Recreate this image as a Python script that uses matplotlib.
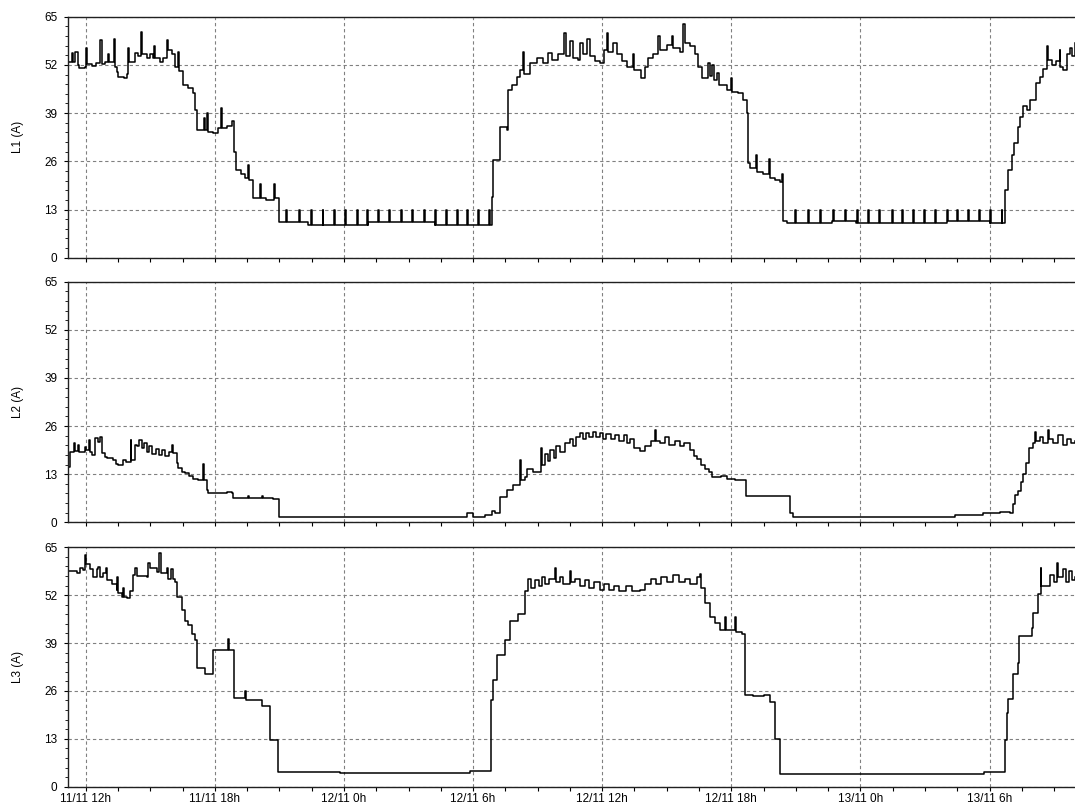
import numpy as np
import matplotlib
matplotlib.use("Agg")
import matplotlib.pyplot as plt
from matplotlib.ticker import MultipleLocator, FuncFormatter

plt.rcParams['font.family'] = ['Liberation Sans Narrow', 'Liberation Sans', 'DejaVu Sans']

# time in hours counted from 11/11 0h, current in A (step data)
t_start = 11.19
t_end = 57.97

l1_t = [11.19, 11.35, 11.40, 11.50, 11.62, 11.70, 11.95, 12.01, 12.06, 12.30, 12.50, 12.66, 12.74, 12.90,
        13.05, 13.10, 13.32, 13.37, 13.45, 13.51, 13.80, 13.92, 13.98, 14.03, 14.29, 14.45, 14.57, 14.62,
        14.85, 15.00, 15.14, 15.17, 15.22, 15.45, 15.60, 15.76, 15.82, 16.00, 16.15, 16.30, 16.35, 16.54,
        16.77, 17.00, 17.08, 17.16, 17.50, 17.53, 17.65, 17.68, 17.93, 18.16, 18.29, 18.32, 18.55, 18.80,
        18.91, 18.98, 19.20, 19.40, 19.56, 19.59, 19.76, 20.10, 20.13, 20.40, 20.75, 20.78, 20.98,
        22.34, 25.13, 28.23,
        30.87, 30.94, 31.25, 31.56, 31.64, 31.80, 32.03, 32.18, 32.31, 32.37, 32.65, 32.96, 33.27, 33.50,
        33.66, 33.96, 34.24, 34.32, 34.51, 34.66, 34.89, 34.97, 35.12, 35.31, 35.43, 35.66, 35.90, 36.09,
        36.21, 36.29, 36.52, 36.68, 36.91, 37.14, 37.42, 37.48, 37.79, 37.99, 38.14, 38.38, 38.61, 38.69,
        39.00, 39.23, 39.31, 39.62, 39.77, 39.85, 40.09, 40.32, 40.47, 40.63, 40.93, 41.01, 41.12, 41.20,
        41.35, 41.44, 41.79, 41.97, 42.03, 42.33, 42.56, 42.72, 42.79, 42.87, 43.15, 43.21, 43.49, 43.74,
        43.80, 44.03, 44.26, 44.34, 44.39,
        44.58, 46.70, 47.80, 52.00, 54.00,
        54.72, 54.87, 55.03, 55.14, 55.32, 55.42, 55.56, 55.75, 55.88, 56.16, 56.35, 56.49, 56.66, 56.70,
        56.90, 57.10, 57.25, 57.28, 57.42, 57.60, 57.75, 57.85, 57.97]
l1_v = [52.9, 55.1, 52.9, 55.6, 52.0, 51.2, 51.5, 56.5, 52.3, 51.8, 52.5, 58.7, 52.3, 52.8,
        55.0, 52.8, 59.0, 51.5, 50.0, 48.8, 48.5, 49.5, 56.5, 52.8, 55.1, 54.5, 61.0, 55.0,
        53.8, 55.0, 54.0, 57.2, 54.0, 52.8, 54.0, 58.7, 56.0, 55.0, 51.5, 55.6, 50.3, 46.6,
        45.8, 44.5, 39.8, 34.4, 37.6, 34.4, 39.0, 34.0, 33.6, 35.0, 40.3, 35.0, 35.5, 37.0,
        28.5, 23.6, 22.5, 21.5, 25.0, 21.0, 16.0, 20.0, 16.0, 15.5, 19.8, 16.0, 9.6,
        8.8, 9.6, 8.8,
        16.4, 26.3, 35.3, 34.5, 45.2, 46.5, 48.7, 50.6, 55.5, 49.5, 52.5, 53.8, 52.5, 55.2,
        53.4, 55.0, 60.5, 54.5, 58.5, 54.0, 53.4, 58.0, 55.0, 59.0, 54.5, 53.0, 52.4, 56.0,
        60.5, 55.5, 57.8, 55.0, 53.0, 51.4, 55.0, 50.5, 48.6, 51.5, 54.0, 55.0, 59.8, 56.0,
        57.4, 59.8, 56.5, 55.5, 63.0, 58.0, 57.0, 55.0, 51.5, 48.5, 52.5, 49.0, 52.0, 48.0,
        49.7, 46.5, 45.2, 48.5, 44.8, 44.5, 42.5, 39.0, 25.5, 24.1, 27.7, 23.0, 22.5, 26.6,
        21.5, 21.0, 20.4, 22.5, 10.0,
        9.4, 10.0, 9.4, 10.0, 9.4,
        18.2, 23.7, 27.7, 30.9, 35.3, 38.0, 41.0, 39.8, 42.5, 47.0, 48.7, 51.0, 57.0, 53.3,
        52.0, 53.0, 56.0, 51.5, 50.6, 55.0, 56.5, 54.5, 58.0]

# short load pulses during the two nights (L1)
l1_pulses = [21.31, 21.91, 22.47, 23.01, 23.53, 24.04, 24.59, 25.06, 25.58, 26.09, 26.64, 27.16,
             27.71, 28.23, 28.74, 29.24, 29.72, 30.23, 30.75,
             44.96, 45.58, 46.12, 46.71, 47.28, 47.83, 48.37, 48.88, 49.45, 49.92, 50.46, 50.97,
             51.47, 52.01, 52.50, 53.01, 53.52, 54.02, 54.56]
l1_pulse_top = 12.9

l2_t = [11.19, 11.27, 11.46, 11.49, 11.66, 11.70, 11.97, 12.00, 12.17, 12.20, 12.28, 12.43, 12.55, 12.65,
        12.74, 12.90, 12.98, 13.28, 13.40, 13.51, 13.75, 13.85, 14.09, 14.12, 14.29, 14.40, 14.50, 14.60,
        14.70, 14.83, 14.95, 15.10, 15.25, 15.40, 15.55, 15.70, 15.85, 16.02, 16.07, 16.23, 16.29, 16.48,
        16.60, 16.80, 17.00, 17.20, 17.44, 17.48, 17.62, 17.68, 18.55, 18.80, 18.85, 19.56, 19.60, 20.20,
        20.25, 20.70, 21.00, 29.72, 30.00, 30.56, 30.90, 31.02, 31.25, 31.58, 31.86, 32.18, 32.22, 32.40,
        32.51, 32.80, 33.16, 33.20, 33.35, 33.50, 33.58, 33.75, 33.85, 34.04, 34.25, 34.51, 34.65, 34.80,
        34.97, 35.10, 35.25, 35.40, 35.55, 35.70, 35.90, 36.05, 36.20, 36.40, 36.60, 36.80, 37.00, 37.15,
        37.30, 37.50, 37.76, 38.00, 38.25, 38.46, 38.50, 38.69, 38.90, 39.10, 39.39, 39.60, 39.80, 40.09,
        40.25, 40.42, 40.60, 40.78, 40.95, 41.10, 41.50, 41.80, 42.17, 42.68, 44.73, 44.87, 52.40, 53.70,
        54.49, 54.95, 55.09, 55.20, 55.30, 55.45, 55.55, 55.70, 55.85, 56.00, 56.10, 56.15, 56.35, 56.50,
        56.70, 56.75, 56.95, 57.20, 57.40, 57.60, 57.80, 57.97]
l2_v = [14.9, 19.1, 21.3, 19.3, 20.8, 19.0, 20.3, 19.5, 22.2, 19.0, 18.2, 22.8, 21.8, 23.0,
        18.7, 17.7, 17.4, 16.8, 15.8, 15.5, 16.8, 16.3, 22.2, 16.8, 21.0, 20.5, 22.2, 20.0,
        21.5, 19.0, 20.5, 18.5, 19.8, 18.3, 19.5, 18.0, 19.0, 21.0, 18.8, 16.0, 14.7, 13.6,
        13.3, 12.5, 11.8, 11.4, 15.7, 11.4, 8.7, 7.8, 8.2, 7.8, 6.5, 7.0, 6.5, 7.0,
        6.5, 6.2, 1.5, 2.4, 1.5, 2.0, 3.0, 2.4, 6.9, 8.7, 10.0, 16.8, 11.4, 12.3,
        14.5, 13.6, 20.0, 15.5, 18.5, 16.5, 19.5, 17.5, 20.5, 19.0, 21.5, 22.5, 20.5, 23.0,
        24.0, 22.5, 24.0, 23.0, 24.3, 23.0, 24.0, 22.5, 23.8, 22.5, 23.5, 22.0, 23.5, 21.5,
        22.5, 20.0, 19.3, 20.5, 22.0, 25.0, 22.0, 21.5, 23.0, 21.0, 22.0, 20.5, 21.5, 19.5,
        18.0, 17.0, 15.5, 14.5, 13.5, 12.2, 12.5, 11.8, 11.5, 7.1, 2.5, 1.5, 2.0, 2.4,
        2.9, 2.4, 5.0, 7.5, 8.5, 11.0, 13.0, 16.0, 20.0, 21.5, 24.5, 22.0, 23.0, 21.5,
        25.0, 22.5, 21.5, 23.5, 21.0, 22.5, 21.5, 22.0]

l3_t = [11.19, 11.58, 11.74, 11.89, 11.97, 12.01, 12.20, 12.35, 12.51, 12.59, 12.66, 12.82, 12.94, 13.00,
        13.21, 13.44, 13.47, 13.51, 13.67, 13.72, 13.78, 13.91, 14.06, 14.21, 14.29, 14.37, 14.83, 14.91,
        14.99, 15.30, 15.42, 15.49, 15.76, 15.84, 15.96, 16.04, 16.15, 16.23, 16.46, 16.61, 16.77, 16.93,
        17.08, 17.16, 17.54, 17.92, 18.61, 18.65, 18.89, 19.40, 19.45, 20.19, 20.56, 20.94, 23.82, 29.86,
        30.83, 30.93, 31.11, 31.49, 31.72, 32.09, 32.41, 32.55, 32.70, 32.88, 33.05, 33.20, 33.35, 33.55,
        33.81, 33.85, 34.05, 34.20, 34.51, 34.55, 34.75, 34.95, 35.20, 35.40, 35.60, 35.90, 36.10, 36.30,
        36.55, 36.80, 37.10, 37.40, 37.76, 38.00, 38.25, 38.50, 38.75, 39.00, 39.30, 39.55, 39.85, 40.10,
        40.40, 40.55, 40.60, 40.78, 41.00, 41.24, 41.48, 41.70, 41.74, 42.17, 42.21, 42.50, 42.64, 43.00,
        43.50, 43.80, 44.03, 44.26, 53.75, 54.72, 54.83, 54.86, 55.09, 55.33, 55.37, 55.96, 56.02, 56.26,
        56.37, 56.41, 56.81, 57.00, 57.15, 57.20, 57.40, 57.55, 57.70, 57.85, 57.97]
l3_v = [58.5, 57.9, 59.3, 58.9, 62.9, 60.5, 59.0, 57.0, 59.0, 59.7, 57.0, 58.0, 59.3, 56.0,
        55.0, 53.4, 57.0, 52.5, 51.5, 54.0, 51.5, 51.2, 53.0, 57.5, 59.5, 57.3, 57.0, 60.7,
        59.3, 58.4, 63.4, 58.0, 59.5, 56.5, 59.0, 56.5, 55.7, 51.6, 48.0, 45.0, 44.0, 41.5,
        39.8, 32.1, 30.5, 37.1, 40.0, 37.0, 24.1, 26.0, 23.5, 22.0, 12.7, 4.0, 3.6, 4.3,
        23.5, 29.0, 35.7, 39.8, 45.0, 47.0, 53.0, 56.5, 54.0, 56.0, 54.5, 57.0, 55.0, 56.5,
        59.3, 55.5, 57.0, 55.0, 58.5, 55.5, 56.5, 54.5, 56.0, 54.0, 55.5, 53.5, 55.0, 53.5,
        54.5, 53.0, 54.5, 53.0, 53.4, 55.0, 56.5, 55.0, 57.0, 55.5, 57.5, 55.5, 56.5, 55.0,
        57.0, 57.7, 54.0, 50.0, 46.0, 44.5, 42.5, 46.0, 42.5, 46.0, 42.0, 41.5, 25.0, 24.5,
        25.0, 23.0, 13.0, 3.5, 4.1, 12.8, 20.1, 23.7, 30.5, 33.6, 40.9, 43.1, 47.2, 52.2,
        59.4, 54.4, 57.5, 55.5, 60.8, 57.0, 59.0, 55.5, 58.5, 56.0, 57.0]

labels = ["L1 (A)", "L2 (A)", "L3 (A)"]


def add_pulses(t, v, pulses, top, w=0.04):
    t = list(t)
    v = list(v)
    for p in pulses:
        i = int(np.searchsorted(t, p, side='right')) - 1
        base = v[i]
        t[i + 1:i + 1] = [p, p + w]
        v[i + 1:i + 1] = [top, base]
    return t, v


def fmt_hour(x, pos):
    day = 11 + int(x // 24)
    return "%d/11 %dh" % (day, int(round(x % 24)))


l1_t, l1_v = add_pulses(l1_t, l1_v, l1_pulses, l1_pulse_top)
series = [(l1_t, l1_v), (l2_t, l2_v), (l3_t, l3_v)]

fig = plt.figure(figsize=(10.75, 8.08), dpi=100)
boxes = [[0.0635, 0.681, 0.9365, 0.2983],
         [0.0635, 0.3536, 0.9365, 0.2978],
         [0.0635, 0.0264, 0.9365, 0.2963]]

for k, (t, v) in enumerate(series):
    ax = fig.add_axes(boxes[k])
    ax.step(t, v, where='post', color='black', lw=1.1)
    ax.set_xlim(t_start, t_end)
    ax.set_ylim(0, 65)
    ax.set_yticks([0, 13, 26, 39, 52, 65])
    ax.yaxis.set_minor_locator(MultipleLocator(2.6))
    ax.xaxis.set_major_locator(MultipleLocator(6))
    ax.xaxis.set_minor_locator(MultipleLocator(1.5))
    ax.grid(True, which='major', color='#808080', lw=0.8, linestyle=(0, (3, 2.5)))
    ax.set_axisbelow(True)
    ax.spines['right'].set_visible(False)
    for s in ['left', 'top', 'bottom']:
        ax.spines[s].set_color('#202020')
        ax.spines[s].set_linewidth(1.0)
    ax.tick_params(axis='y', which='major', length=3, width=0.8, labelsize=8.5, pad=5)
    ax.tick_params(axis='y', which='minor', length=2, width=0.6)
    ax.tick_params(axis='x', which='both', length=3, width=0.8, labelsize=8.5, pad=1.5)
    ax.set_ylabel(labels[k], fontsize=8.5)
    ax.yaxis.set_label_coords(-0.044, 0.5)
    if k < 2:
        ax.tick_params(axis='x', labelbottom=False)
    else:
        ax.xaxis.set_major_formatter(FuncFormatter(fmt_hour))

fig.savefig("out.png", dpi=100)
